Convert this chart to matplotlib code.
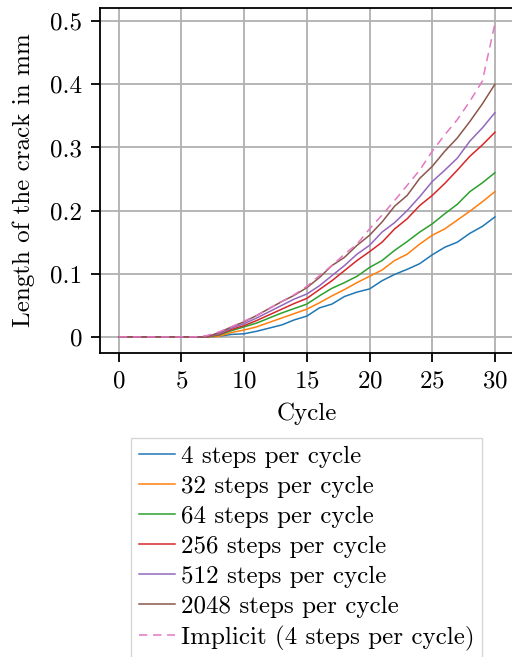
import matplotlib
matplotlib.use("Agg")
import matplotlib.pyplot as plt

plt.rcParams['font.family'] = 'serif'
plt.rcParams['font.serif'] = ['cmr10']
plt.rcParams['mathtext.fontset'] = 'cm'
plt.rcParams['axes.formatter.use_mathtext'] = True
plt.rcParams['font.size'] = 18
plt.rcParams['xtick.major.size'] = 6.5
plt.rcParams['ytick.major.size'] = 6.5
plt.rcParams['xtick.major.width'] = 1.3
plt.rcParams['ytick.major.width'] = 1.3
plt.rcParams['xtick.major.pad'] = 6.3
plt.rcParams['ytick.major.pad'] = 6.3
plt.rcParams['axes.linewidth'] = 1.3
plt.rcParams['axes.labelpad'] = 7

cycles = list(range(0, 31))

steps_4 = [0, 0, 0, 0, 0, 0, 0, 0, 0.001, 0.004, 0.005, 0.009, 0.014, 0.019, 0.027, 0.033,
           0.046, 0.052, 0.064, 0.071, 0.076, 0.089, 0.099, 0.107, 0.116, 0.130,
           0.142, 0.150, 0.164, 0.175, 0.190]
steps_32 = [0, 0, 0, 0, 0, 0, 0, 0, 0.001, 0.007, 0.011, 0.016, 0.023, 0.030, 0.037, 0.044,
            0.054, 0.065, 0.075, 0.086, 0.096, 0.106, 0.121, 0.131, 0.147, 0.161,
            0.171, 0.185, 0.199, 0.214, 0.230]
steps_64 = [0, 0, 0, 0, 0, 0, 0, 0, 0.003, 0.010, 0.016, 0.022, 0.030, 0.038, 0.045, 0.052,
            0.065, 0.077, 0.086, 0.096, 0.110, 0.121, 0.137, 0.151, 0.166, 0.179,
            0.195, 0.210, 0.230, 0.244, 0.260]
steps_256 = [0, 0, 0, 0, 0, 0, 0, 0, 0.004, 0.012, 0.018, 0.026, 0.035, 0.044, 0.053, 0.061,
             0.075, 0.089, 0.105, 0.121, 0.135, 0.150, 0.171, 0.187, 0.208, 0.224,
             0.243, 0.264, 0.286, 0.304, 0.324]
steps_512 = [0, 0, 0, 0, 0, 0, 0, 0, 0.005, 0.014, 0.021, 0.030, 0.040, 0.050, 0.060, 0.068,
             0.081, 0.097, 0.113, 0.131, 0.145, 0.166, 0.181, 0.200, 0.222, 0.246,
             0.264, 0.283, 0.310, 0.331, 0.355]
steps_2048 = [0, 0, 0, 0, 0, 0, 0, 0, 0.007, 0.016, 0.024, 0.034, 0.045, 0.056, 0.066, 0.078,
              0.094, 0.113, 0.126, 0.145, 0.161, 0.182, 0.207, 0.224, 0.251, 0.270,
              0.294, 0.315, 0.341, 0.369, 0.400]
implicit_4 = [0, 0, 0, 0, 0, 0, 0, 0.002, 0.008, 0.016, 0.025, 0.034, 0.045, 0.056, 0.067, 0.080,
              0.097, 0.113, 0.131, 0.147, 0.171, 0.193, 0.216, 0.240, 0.264, 0.294,
              0.320, 0.344, 0.373, 0.405, 0.496]

labels = ['4 steps per cycle', '32 steps per cycle', '64 steps per cycle',
          '256 steps per cycle', '512 steps per cycle', '2048 steps per cycle']
series = [steps_4, steps_32, steps_64, steps_256, steps_512, steps_2048]

W, H = 512, 657
fig = plt.figure(figsize=(W / 100, H / 100), dpi=100)
ax = fig.add_axes([100 / W, 1 - 352.6 / H, 413.7 / W, 344.6 / H])

for vals, lab in zip(series, labels):
    ax.plot(cycles, vals, lw=1.1, label=lab)
ax.plot(cycles, implicit_4, lw=1.1, ls=(0, (5.5, 3.7)), color='tab:pink',
        label='Implicit (4 steps per cycle)')

ax.grid(True, color='#b0b0b0', lw=1.3)
ax.set_axisbelow(True)
ax.set_xticks([0, 5, 10, 15, 20, 25, 30])
ax.set_yticks([0, 0.1, 0.2, 0.3, 0.4, 0.5])
ax.set_yticklabels(['0', '0.1', '0.2', '0.3', '0.4', '0.5'])
ax.set_xlabel('Cycle')
ax.set_ylabel('Length of the crack in mm', labelpad=11)

fig.legend(loc='upper center', bbox_to_anchor=(306.9 / W, 1 - 438 / H),
           borderaxespad=0, fancybox=False, borderpad=0.3, labelspacing=0.3,
           handlelength=1.45, handletextpad=0.25)

fig.savefig('out.png', dpi=100)
